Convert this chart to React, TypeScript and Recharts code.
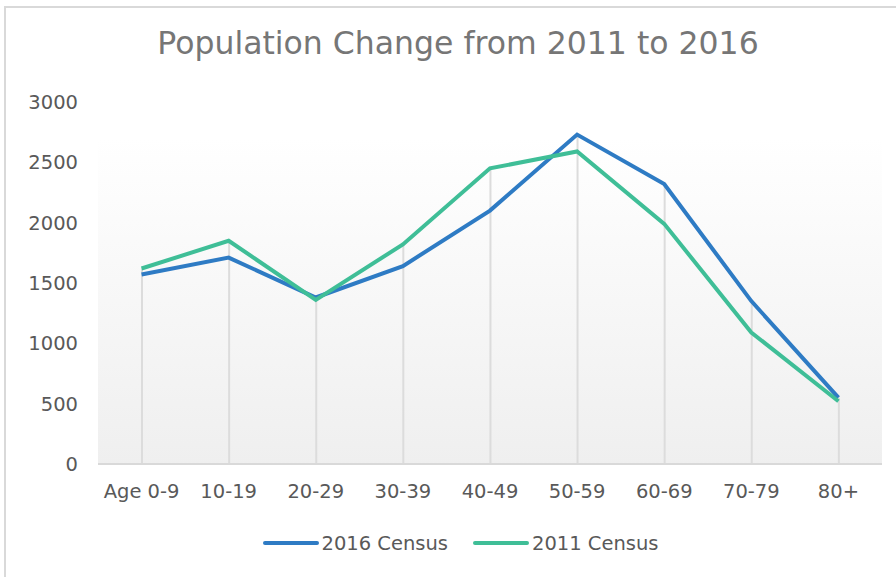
import React from 'react';
import { ComposedChart, Line, Bar, XAxis, YAxis, CartesianGrid, Legend } from 'recharts';

const AGE_GROUPS = ['Age 0-9', '10-19', '20-29', '30-39', '40-49', '50-59', '60-69', '70-79', '80+'];
const CENSUS_2016 = [1570, 1710, 1380, 1640, 2100, 2730, 2320, 1350, 550];
const CENSUS_2011 = [1620, 1850, 1360, 1820, 2450, 2590, 1990, 1090, 520];
const Y_TICKS = [0, 500, 1000, 1500, 2000, 2500, 3000];

const BLUE = '#2e7bc4';
const GREEN = '#3fbe97';
const FONT = "'DejaVu Sans', sans-serif";

const data = AGE_GROUPS.map((age, i) => ({
  age,
  c2016: CENSUS_2016[i],
  c2011: CENSUS_2011[i],
  drop: Math.max(CENSUS_2016[i], CENSUS_2011[i]),
}));

const legendItems = [
  { label: '2016 Census', color: BLUE },
  { label: '2011 Census', color: GREEN },
];

const renderLegend = () => (
  <div style={{ height: 26, display: 'flex', justifyContent: 'center', alignItems: 'center', gap: 24, fontFamily: FONT, fontSize: 19.5, color: '#595959', paddingLeft: 38 }}>
    {legendItems.map((item) => (
      <div key={item.label} style={{ display: 'flex', alignItems: 'center' }}>
        <svg width={58} height={10}>
          <line x1={3} y1={5} x2={55} y2={5} stroke={item.color} strokeWidth={4} strokeLinecap="round" />
        </svg>
        <span style={{ marginLeft: 2 }}>{item.label}</span>
      </div>
    ))}
  </div>
);

export default function App() {
  return (
    <div style={{ position: 'absolute', left: 0, top: 0, width: 896, height: 577, background: '#fff', overflow: 'hidden' }}>
      <div style={{ position: 'absolute', left: 4, top: 6, width: 900, height: 600, border: '2px solid #d9d9d9', boxSizing: 'border-box' }} />
      <div style={{ position: 'absolute', left: 0, top: 25, width: 916, textAlign: 'center', fontFamily: FONT, fontSize: 31.5, color: '#767676' }}>
        Population Change from 2011 to 2016
      </div>
      <div style={{ position: 'absolute', left: 0, top: 0 }}>
        <ComposedChart width={896} height={577} data={data} margin={{ top: 102, right: 14, bottom: 21, left: 0 }}>
          <defs>
            <linearGradient id="plotBg" x1="0" y1="0" x2="0" y2="1">
              <stop offset="0.1" stopColor="#ffffff" />
              <stop offset="1" stopColor="#efefef" />
            </linearGradient>
          </defs>
          <CartesianGrid horizontal={false} vertical={false} fill="url(#plotBg)" />
          <XAxis
            dataKey="age"
            height={66}
            tickLine={false}
            axisLine={{ stroke: '#d9d9d9', strokeWidth: 2 }}
            tick={{ fill: '#595959', fontSize: 19.5, fontFamily: FONT }}
            tickMargin={14}
            interval={0}
          />
          <YAxis
            width={98}
            domain={[0, 3000]}
            ticks={Y_TICKS}
            tickLine={false}
            axisLine={false}
            tick={{ fill: '#595959', fontSize: 19.5, fontFamily: FONT }}
            tickMargin={14}
          />
          <Bar dataKey="drop" barSize={2} fill="#dcdcdc" isAnimationActive={false} legendType="none" />
          <Line type="linear" dataKey="c2016" name="2016 Census" stroke={BLUE} strokeWidth={4} dot={false} isAnimationActive={false} />
          <Line type="linear" dataKey="c2011" name="2011 Census" stroke={GREEN} strokeWidth={4} dot={false} isAnimationActive={false} />
          <Legend verticalAlign="bottom" content={renderLegend} />
        </ComposedChart>
      </div>
    </div>
  );
}
